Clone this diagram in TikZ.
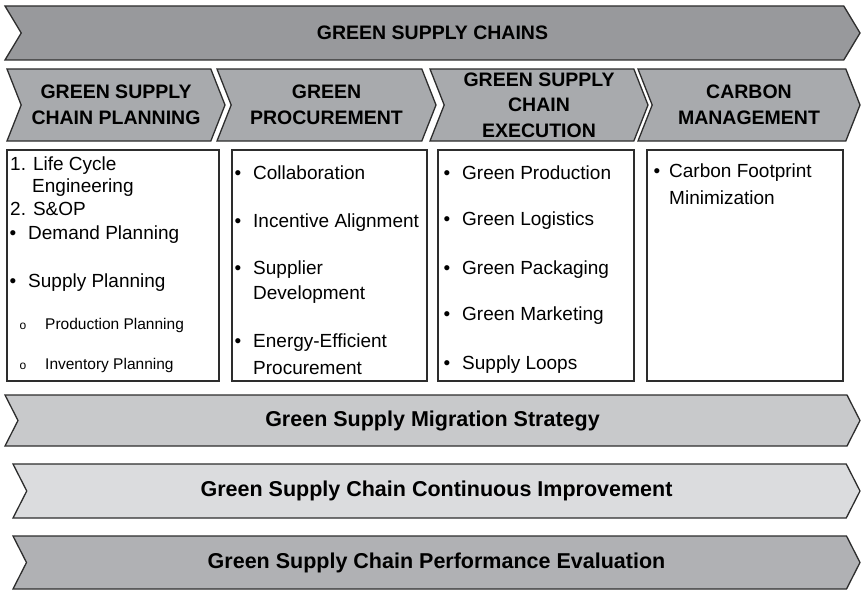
\documentclass[tikz,border=0pt]{standalone}
\usepackage{fontspec}
\setmainfont{Liberation Sans}
\usepackage{xcolor}
\definecolor{edge}{RGB}{45,45,45}
\definecolor{shade1}{RGB}{152,153,156}
\definecolor{shade2}{RGB}{168,170,173}
\definecolor{shade3}{RGB}{200,201,203}
\definecolor{shade4}{RGB}{219,220,222}
\definecolor{shade5}{RGB}{176,177,180}
\usepackage{tikz}
\usetikzlibrary{shapes.symbols}
\tikzstyle{band} = [
    signal, signal from=west, signal to=east,
    signal pointer angle=118,
    draw=edge, line width=1.3pt,
    inner sep=0pt, align=center,
    font=\bfseries\fontsize{19.5}{25.5}\selectfont,
]
\tikzstyle{phase} = [
    band,
    fill=shade2,
    minimum height=72,
    signal pointer angle=137,
]
\tikzstyle{strategy} = [
    band,
    signal pointer angle=126,
    font=\bfseries\fontsize{21.5}{26}\selectfont,
]
\tikzstyle{listbox} = [
    rectangle, draw=edge, line width=1.2pt,
    minimum height=231,
]
\tikzstyle{item} = [
    anchor=mid west, inner sep=0pt,
    font=\fontsize{19}{23}\selectfont,
]
\tikzstyle{subitem} = [
    item,
    font=\fontsize{15.5}{19}\selectfont,
]
\tikzstyle{bullet} = [
    anchor=mid, inner sep=0pt,
    font=\fontsize{19}{23}\selectfont,
]

\begin{document}
\begin{tikzpicture}[x=1pt,y=-1pt]
    \useasboundingbox (0,0) rectangle (861,591);

    % top banner
    \node (chains) at (432.5,33) [band, fill=shade1, minimum width=855, minimum height=54] {GREEN SUPPLY CHAINS};

    % phases
    \foreach \title/\x/\w [count=\i] in {{GREEN SUPPLY\\CHAIN PLANNING}/116/218,
            {GREEN\\PROCUREMENT}/326.5/219,
            {GREEN SUPPLY\\CHAIN\\EXECUTION}/539/218,
            {CARBON\\MANAGEMENT}/749/222} {
        \node (phase\i) at (\x,105) [phase, minimum width=\w] {\title};
    }

    % boxes
    \node (list1) at (113,265.5) [listbox, minimum width=212] {};
    \node (list2) at (329.5,265.5) [listbox, minimum width=195] {};
    \node (list3) at (536,265.5) [listbox, minimum width=196] {};
    \node (list4) at (745,265.5) [listbox, minimum width=196] {};

    % planning
    \node (plan1) at (10,168) [item] {1. Life Cycle};
    \node (plan2) at (32,190) [item] {Engineering};
    \node (plan3) at (10,213) [item] {2. S\&OP};
    \foreach \txt/\y [count=\i] in {Demand Planning/237, Supply Planning/285} {
        \node (pdot\i) at (13,\y) [bullet] {•};
        \node (pitem\i) at (28,\y) [item] {\txt};
    }
    \foreach \txt/\y [count=\i] in {Production Planning/327, Inventory Planning/367} {
        \node (sdot\i) at (23,\y) [bullet, font=\fontsize{12}{14}\selectfont] {o};
        \node (sitem\i) at (45,\y) [subitem] {\txt};
    }

    % procurement
    \foreach \y [count=\i] in {177,225,272,345} {
        \node (rdot\i) at (238,\y) [bullet] {•};
    }
    \foreach \txt/\y [count=\i] in {Collaboration/177, Incentive Alignment/225,
            Supplier/272, Development/297, Energy-Efficient/345, Procurement/372} {
        \node (ritem\i) at (253,\y) [item] {\txt};
    }

    % execution
    \foreach \txt/\y [count=\i] in {Green Production/177, Green Logistics/223,
            Green Packaging/272, Green Marketing/318, Supply Loops/367} {
        \node (edot\i) at (447,\y) [bullet] {•};
        \node (eitem\i) at (462,\y) [item] {\txt};
    }

    % carbon
    \node (cdot1) at (657,175) [bullet] {•};
    \node (citem1) at (669,175) [item] {Carbon Footprint};
    \node (citem2) at (669,202) [item] {Minimization};

    % bottom banners
    \node (migration) at (432.5,420.5) [strategy, fill=shade3, minimum width=855, minimum height=51] {Green Supply Migration Strategy};
    \node (improve) at (436.5,491) [strategy, fill=shade4, minimum width=847, minimum height=54] {Green Supply Chain Continuous Improvement};
    \node (evaluate) at (436.5,562.5) [strategy, fill=shade5, minimum width=847, minimum height=53] {Green Supply Chain Performance Evaluation};

\end{tikzpicture}
\end{document}
